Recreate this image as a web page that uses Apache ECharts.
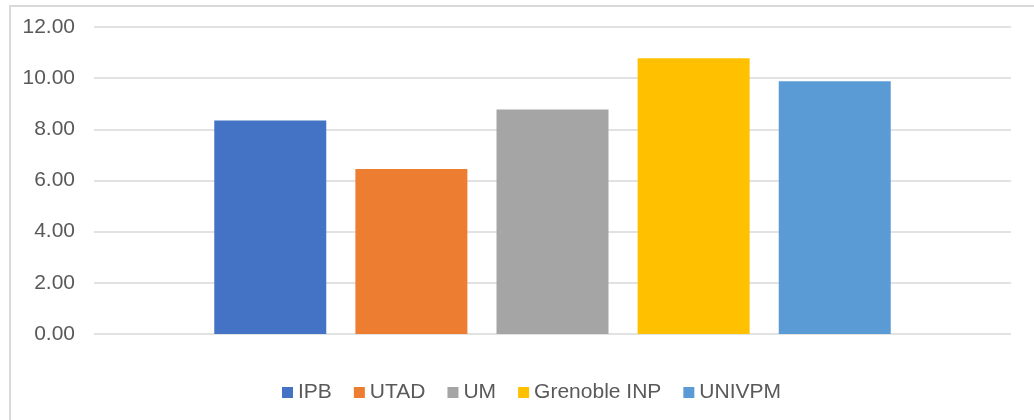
<!DOCTYPE html>
<html>
<head>
<meta charset="utf-8">
<script src="https://cdn.jsdelivr.net/npm/echarts@6/dist/echarts.min.js"></script>
<style>
  html, body { margin: 0; padding: 0; background: #fff; }
  #wrap { position: relative; width: 1034px; height: 420px; overflow: hidden; }
  #frame { position: absolute; left: 9px; top: 5px; width: 1100px; height: 500px;
           border-left: 2px solid #d9d9d9; border-top: 2px solid #d9d9d9; }
  #chart { position: absolute; left: 0; top: 0; width: 1034px; height: 420px; }
</style>
</head>
<body>
<div id="wrap">
  <div id="frame"></div>
  <div id="chart"></div>
</div>
<script>
// data
var schools = ['IPB', 'UTAD', 'UM', 'Grenoble INP', 'UNIVPM'];
var values = [8.35, 6.45, 8.78, 10.78, 9.88];
var colors = ['#4472C4', '#ED7D31', '#A5A5A5', '#FFC000', '#5B9BD5'];
var yTicks = [0, 12, 2]; // min, max, interval

var txt = '#595959';
var series = [];
for (var i = 0; i < schools.length; i++) {
  series.push({
    name: schools[i],
    type: 'bar',
    barWidth: 112,
    barGap: '26%',
    itemStyle: { color: colors[i] },
    data: [values[i]]
  });
}

var option = {
  animation: false,
  textStyle: { fontFamily: 'Liberation Sans, Arial, sans-serif' },
  grid: { left: 94, right: 23, top: 27, bottom: 86 },
  legend: {
    data: schools,
    left: 277,
    top: 377,
    itemWidth: 11,
    itemHeight: 11,
    itemGap: 22,
    icon: 'rect',
    textStyle: { fontSize: 21, color: txt }
  },
  xAxis: {
    type: 'category',
    data: [''],
    axisLine: { show: false },
    axisTick: { show: false },
    axisLabel: { show: false }
  },
  yAxis: {
    type: 'value',
    min: yTicks[0],
    max: yTicks[1],
    interval: yTicks[2],
    axisLine: { show: false },
    axisTick: { show: false },
    axisLabel: {
      fontSize: 21,
      color: txt,
      margin: 19,
      formatter: function (v) { return v.toFixed(2); }
    },
    splitLine: { lineStyle: { color: '#d9d9d9', width: 1.5 } }
  },
  series: series
};

var chart = echarts.init(document.getElementById('chart'));
chart.setOption(option);
</script>
</body>
</html>
